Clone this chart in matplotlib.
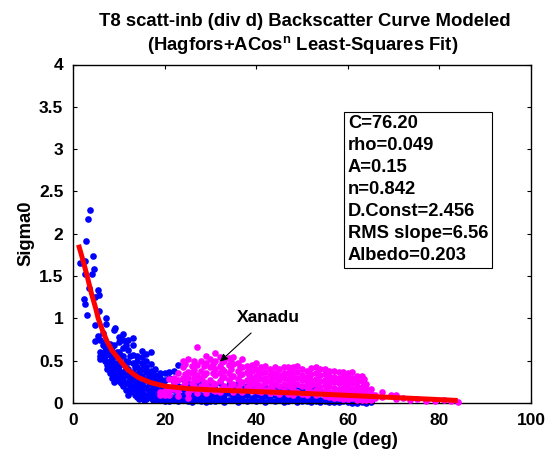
import matplotlib
matplotlib.use("Agg")
import matplotlib.pyplot as plt

plt.rcParams['font.family'] = 'Liberation Sans'
plt.rcParams['font.weight'] = 'bold'
plt.rcParams['mathtext.fontset'] = 'custom'
plt.rcParams['mathtext.rm'] = 'Liberation Sans:bold'

# scattered points above the main cloud, read by eye
blue_top_x = [3.7, 3.35, 2.9, 4.4, 1.5, 2.7, 4.5, 4.2, 2.6, 3.6, 5.5, 5.7, 4.7, 2.5, 2.7, 3.0, 5.7, 7.3, 7.1, 4.7, 9.1, 9.0, 4.8, 5.4, 6.6]
blue_top_y = [2.28, 2.18, 1.92, 1.74, 1.65, 1.68, 1.58, 1.53, 1.53, 1.36, 1.33, 1.28, 1.25, 1.23, 1.17, 1.04, 1.09, 1.0, 0.93, 0.92, 0.89, 0.86, 0.73, 0.79, 0.83]

# cloud as columns: angle -> sigma0 values
blue_angles = [6, 7, 8, 9, 10, 11, 12, 13, 14, 15, 16, 17, 18, 19, 20, 21, 22, 23, 24, 25, 26, 27, 28, 29, 30,
               31, 32, 33, 34, 35, 36, 37, 38, 39, 40, 41, 42, 43, 44, 45, 46, 47, 48, 49, 50, 51, 52, 53, 54,
               55, 56, 57, 58, 59, 60, 61, 62, 63, 64, 65,
               6.5, 7.5, 8.5, 9.5, 10.5, 11.5, 12.5, 13.5, 14.5, 15.5, 16.5, 17.5, 18.5, 19.5]
blue_values = [
    [0.75, 0.6, 0.56, 0.52],
    [0.72, 0.66, 0.6, 0.55, 0.5],
    [0.7, 0.63, 0.57, 0.5, 0.42, 0.36],
    [0.68, 0.55, 0.47, 0.41, 0.33, 0.25],
    [0.78, 0.72, 0.6, 0.5, 0.44, 0.38, 0.3, 0.26],
    [0.81, 0.74, 0.65, 0.55, 0.46, 0.37, 0.29, 0.2],
    [0.75, 0.63, 0.48, 0.4, 0.33, 0.25, 0.1],
    [0.77, 0.69, 0.57, 0.47, 0.37, 0.28, 0.22, 0.18],
    [0.56, 0.5, 0.42, 0.33, 0.25, 0.16, 0.07],
    [0.61, 0.54, 0.47, 0.4, 0.32, 0.23, 0.14, 0.06],
    [0.58, 0.5, 0.43, 0.37, 0.28, 0.18, 0.1, 0.05],
    [0.6, 0.46, 0.38, 0.3, 0.22, 0.13, 0.06],
    [0.4, 0.33, 0.27, 0.18, 0.1, 0.04],
    [0.36, 0.3, 0.22, 0.14, 0.07, 0.03],
    [0.35, 0.27, 0.2, 0.12, 0.05, 0.02],
    [0.37, 0.3, 0.18, 0.09, 0.04, 0.02],
    [0.38, 0.25, 0.15, 0.07, 0.03],
    [0.45, 0.2, 0.1, 0.04, 0.02],
    [0.28, 0.17, 0.09, 0.03],
    [0.24, 0.14, 0.07, 0.02],
    [0.2, 0.11, 0.05, 0.01],
    [0.23, 0.13, 0.08, 0.03],
    [0.26, 0.1, 0.05, 0.02],
    [0.2, 0.12, 0.06, 0.01],
    [0.22, 0.09, 0.04, 0.02],
    [0.17, 0.11, 0.06, 0.02],
    [0.24, 0.08, 0.03],
    [0.19, 0.1, 0.05, 0.01],
    [0.21, 0.12, 0.04],
    [0.16, 0.08, 0.03],
    [0.22, 0.1, 0.05, 0.01],
    [0.18, 0.07, 0.03],
    [0.2, 0.09, 0.02],
    [0.15, 0.06, 0.04],
    [0.21, 0.1, 0.02],
    [0.17, 0.07, 0.03],
    [0.19, 0.08, 0.01],
    [0.14, 0.05, 0.03],
    [0.2, 0.09, 0.02],
    [0.16, 0.06, 0.03],
    [0.18, 0.07, 0.01],
    [0.13, 0.05, 0.02],
    [0.19, 0.08, 0.03],
    [0.15, 0.06, 0.01],
    [0.17, 0.07, 0.02],
    [0.12, 0.04, 0.02],
    [0.15, 0.06, 0.01],
    [0.17, 0.05, 0.02],
    [0.13, 0.04, 0.01],
    [0.11, 0.05, 0.02],
    [0.09, 0.03, 0.01],
    [0.1, 0.04, 0.01],
    [0.08, 0.03, 0.01],
    [0.09, 0.04, 0.02],
    [0.07, 0.03, 0.01],
    [0.08, 0.02, 0.0],
    [0.06, 0.03, 0.0],
    [0.07, 0.02, 0.01],
    [0.05, 0.02, 0.0],
    [0.04, 0.02, 0.01],
    # half steps, denser part of the cloud
    [0.68, 0.58, 0.53],
    [0.69, 0.62, 0.45, 0.4],
    [0.66, 0.52, 0.44, 0.38, 0.3],
    [0.6, 0.42, 0.36, 0.28],
    [0.55, 0.47, 0.34, 0.24],
    [0.69, 0.5, 0.41, 0.33, 0.24, 0.15],
    [0.55, 0.36, 0.28, 0.2, 0.13],
    [0.42, 0.32, 0.24, 0.15, 0.09],
    [0.37, 0.29, 0.2, 0.11, 0.05],
    [0.42, 0.27, 0.19, 0.09, 0.04],
    [0.33, 0.24, 0.15, 0.07],
    [0.34, 0.26, 0.17, 0.09, 0.03],
    [0.3, 0.22, 0.14, 0.07, 0.03],
    [0.25, 0.17, 0.1, 0.04],
]

magenta_angles = [19, 20, 21, 22, 23, 24, 25, 26, 27, 28, 29, 30, 31, 32, 33, 34, 35, 36, 37, 38, 39, 40, 41, 42,
                  43, 44, 45, 46, 47, 48, 49, 50, 51, 52, 53, 54, 55, 56, 57, 58, 59, 60, 61, 62, 63, 64, 65,
                  66, 67.5, 69.5, 70.5, 72, 73.5, 75, 77, 79, 81, 82.5, 84,
                  24.5, 26.5, 28.5, 30.5, 32.5, 34.5, 36.5, 38.5, 40.5, 43.5, 47.5, 51.5, 55.5, 59.5, 63.5]
magenta_values = [
    [0.13, 0.1],
    [0.14, 0.09],
    [0.28, 0.14, 0.09],
    [0.3, 0.24, 0.16],
    [0.35, 0.27, 0.14, 0.08],
    [0.5, 0.42, 0.3, 0.2],
    [0.52, 0.37, 0.29, 0.12, 0.06],
    [0.44, 0.35, 0.24, 0.17],
    [0.66, 0.45, 0.33, 0.27, 0.12],
    [0.5, 0.38, 0.3, 0.2],
    [0.55, 0.47, 0.35, 0.22, 0.12],
    [0.52, 0.42, 0.27, 0.18],
    [0.59, 0.5, 0.4, 0.33, 0.22, 0.14],
    [0.54, 0.44, 0.36, 0.26, 0.13],
    [0.5, 0.38, 0.31, 0.2],
    [0.53, 0.45, 0.35, 0.27, 0.16],
    [0.54, 0.46, 0.32, 0.22, 0.13],
    [0.47, 0.38, 0.28, 0.18],
    [0.52, 0.42, 0.34, 0.25, 0.13],
    [0.44, 0.37, 0.27, 0.19],
    [0.45, 0.38, 0.3, 0.23, 0.14],
    [0.47, 0.4, 0.32, 0.25, 0.17],
    [0.42, 0.35, 0.28, 0.2, 0.13],
    [0.44, 0.37, 0.3, 0.24, 0.15],
    [0.4, 0.33, 0.26, 0.19, 0.12],
    [0.42, 0.35, 0.29, 0.22, 0.13],
    [0.4, 0.33, 0.27, 0.2, 0.11],
    [0.43, 0.36, 0.29, 0.23, 0.15],
    [0.42, 0.35, 0.28, 0.21, 0.11],
    [0.43, 0.36, 0.3, 0.24, 0.16, 0.1],
    [0.44, 0.37, 0.3, 0.23, 0.13],
    [0.4, 0.33, 0.27, 0.2, 0.11],
    [0.38, 0.31, 0.25, 0.19, 0.1],
    [0.41, 0.34, 0.27, 0.21, 0.13],
    [0.42, 0.35, 0.28, 0.22, 0.15, 0.09],
    [0.4, 0.33, 0.26, 0.19, 0.12],
    [0.4, 0.34, 0.27, 0.21, 0.14, 0.08],
    [0.38, 0.32, 0.26, 0.2, 0.13, 0.07],
    [0.38, 0.31, 0.25, 0.18, 0.12, 0.06],
    [0.37, 0.3, 0.24, 0.17, 0.11, 0.06],
    [0.37, 0.31, 0.25, 0.18, 0.12, 0.05],
    [0.36, 0.3, 0.23, 0.16, 0.1, 0.05],
    [0.37, 0.3, 0.24, 0.17, 0.11, 0.06],
    [0.32, 0.26, 0.2, 0.14, 0.08, 0.04],
    [0.32, 0.26, 0.19, 0.13, 0.08, 0.04],
    [0.22, 0.17, 0.11, 0.06, 0.03],
    [0.16, 0.11, 0.07, 0.03],
    [0.1, 0.06],
    [0.13, 0.07],
    [0.09],
    [0.09, 0.05],
    [0.06],
    [0.03],
    [0.05],
    [0.02],
    [0.02],
    [0.03],
    [0.02],
    [0.01],
    # half steps
    [0.46, 0.34, 0.24],
    [0.5, 0.39, 0.29, 0.2],
    [0.44, 0.33, 0.25, 0.16],
    [0.46, 0.36, 0.24, 0.15],
    [0.48, 0.4, 0.3, 0.18],
    [0.49, 0.4, 0.31, 0.21],
    [0.43, 0.33, 0.23, 0.15],
    [0.41, 0.33, 0.25, 0.16],
    [0.38, 0.29, 0.21, 0.14],
    [0.36, 0.29, 0.23, 0.16],
    [0.39, 0.32, 0.26, 0.19],
    [0.35, 0.29, 0.22, 0.15],
    [0.36, 0.29, 0.22, 0.16],
    [0.33, 0.27, 0.21, 0.14, 0.08],
    [0.28, 0.22, 0.16, 0.1, 0.05],
]

# fitted curve
fit_angle = [1.2, 2, 3, 4, 5, 5.5, 6.5, 7.5, 8.5, 10.3, 12, 14.3, 17, 20, 25, 30, 40, 50, 60, 70, 84]
fit_sigma = [1.87, 1.72, 1.52, 1.3, 1.11, 1.0, 0.85, 0.72, 0.62, 0.5, 0.39, 0.3, 0.24, 0.2, 0.17, 0.155, 0.135, 0.115, 0.09, 0.065, 0.03]

param_lines = ['C=76.20', 'rho=0.049', 'A=0.15', 'n=0.842', 'D.Const=2.456', 'RMS slope=6.56', 'Albedo=0.203']
x_ticks = [0, 20, 40, 60, 80, 100]
y_ticks = [0, 0.5, 1, 1.5, 2, 2.5, 3, 3.5, 4]
y_labels = ['0', '0.5', '1', '1.5', '2', '2.5', '3', '3.5', '4']


def expand(angles, values):
    xs, ys = [], []
    for a, col in zip(angles, values):
        for v in col:
            xs.append(a)
            ys.append(v)
    return xs, ys


W, H = 551, 449
fig = plt.figure(figsize=(W / 100, H / 100), dpi=100)
ax = fig.add_axes([73 / W, 1 - 403 / H, (531 - 73) / W, (403 - 64.5) / H])

bx, by = expand(blue_angles, blue_values)
mx, my = expand(magenta_angles, magenta_values)
ax.plot(blue_top_x + bx, blue_top_y + by, 'o', color='#0000ff', ms=4.8, mew=0, clip_on=False, zorder=2)
ax.plot(mx, my, 'o', color='#ff00ff', ms=4.8, mew=0, clip_on=False, zorder=3)
ax.plot(fit_angle, fit_sigma, '-', color='#ff0000', lw=3.6, solid_capstyle='butt', zorder=4)

ax.set_xlim(0, 100)
ax.set_ylim(0, 4)
ax.set_xticks(x_ticks)
ax.set_yticks(y_ticks)
ax.set_yticklabels(y_labels)
ax.tick_params(direction='in', top=True, right=True, length=3, width=0.8, labelsize=12.5, pad=7)
for s in ax.spines.values():
    s.set_linewidth(1.0)

ax.set_xlabel('Incidence Angle (deg)', fontsize=13.3, fontweight='bold', labelpad=3)
ax.set_ylabel('Sigma0', fontsize=13.3, fontweight='bold', labelpad=3)

fig.text(305 / W, 1 - 22 / H, 'T8 scatt-inb (div d) Backscatter Curve Modeled', ha='center', va='center',
         fontsize=13.3, fontweight='bold')
fig.text(303 / W, 1 - 45 / H, r'(Hagfors+ACos$^{\mathrm{n}}$ Least-Squares Fit)', ha='center', va='center',
         fontsize=13.3, fontweight='bold')

ax.text(60.0, 3.4, '\n'.join(param_lines), ha='left', va='top', fontsize=13.2, fontweight='bold', linespacing=1.385,
        bbox=dict(facecolor='white', edgecolor='black', linewidth=0.8, boxstyle='square,pad=0.2'), zorder=5)

ax.annotate('Xanadu', xy=(32.1, 0.49), xytext=(35.8, 1.015), fontsize=12.6, fontweight='bold', va='center',
            arrowprops=dict(arrowstyle='-|>', color='black', lw=0.8, shrinkA=6, shrinkB=0, mutation_scale=11), zorder=6)

fig.savefig('out.png', dpi=100)
